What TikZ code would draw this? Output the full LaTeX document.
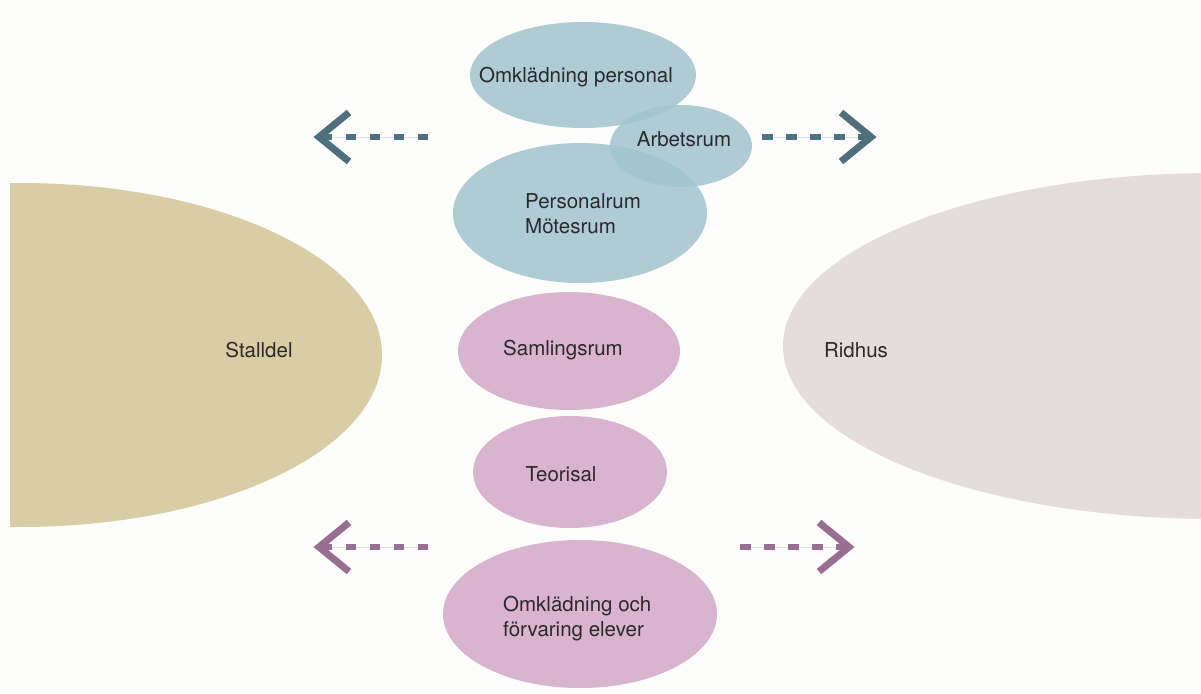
\documentclass[tikz,border=0pt]{standalone}
\usepackage{fontspec}
\setmainfont{TeX Gyre Heros}
\usetikzlibrary{shapes.geometric}
\definecolor{bg}{HTML}{FDFDFB}
\definecolor{bluefill}{HTML}{A2C4CF}
\definecolor{pinkfill}{HTML}{D8B4CE}
\definecolor{stallfill}{HTML}{D9CDA5}
\definecolor{ridfill}{HTML}{E5DCDD}
\definecolor{tealarrow}{HTML}{4E6F7D}
\definecolor{mauvearrow}{HTML}{9A6E93}
\definecolor{txt}{HTML}{2A2A2A}
\tikzset{
  room/.style={ellipse, draw=none, inner sep=0pt},
  bluebox/.style={room, fill=bluefill, fill opacity=0.85},
  pinkbox/.style={room, fill=pinkfill},
  lbl/.style={text=txt, font=\fontsize{20.5}{25}\selectfont, inner sep=0pt},
  lbll/.style={lbl, align=left, anchor=west},
  dashline/.style={line width=6.5pt, dash pattern=on 10.5pt off 13.5pt},
  chev/.style={line width=7pt, line join=miter, line cap=butt},
}
\begin{document}
\begin{tikzpicture}[x=1pt,y=-1pt]
\useasboundingbox (0,0) rectangle (1201,693);
\fill[bg] (0,0) rectangle (1201,693);
% big side ellipses
\begin{scope}
\clip (10,0) rectangle (1201,693);
\node[room, fill=stallfill, minimum width=724pt, minimum height=344pt] (stall) at (20,355) {};
\node[room, fill=ridfill, minimum width=864pt, minimum height=346pt] (rid) at (1215,346) {};
\end{scope}
\node[lbl] (stalltxt) at (259,350) {Stalldel};
\node[lbl] (ridtxt) at (856,350) {Ridhus};
% blue rooms
\node[bluebox, minimum width=226pt, minimum height=106pt] (op) at (583,75) {};
\node[bluebox, minimum width=254pt, minimum height=140pt] (pr) at (580,213) {};
\node[bluebox, minimum width=142pt, minimum height=82pt] (ar) at (681,146) {};
\node[lbl] (optxt) at (576,77) {Omklädning personal};
\node[lbl] (artxt) at (684,139) {Arbetsrum};
\node[lbll] (prtxt) at (525,214) {Personalrum\\Mötesrum};
% pink rooms
\node[pinkbox, minimum width=222pt, minimum height=118pt] (sr) at (569,351) {};
\node[pinkbox, minimum width=194pt, minimum height=112pt] (ts) at (570,472) {};
\node[pinkbox, minimum width=274pt, minimum height=148pt] (el) at (580,614) {};
\node[lbl] (srtxt) at (563,350) {Samlingsrum};
\node[lbl] (tstxt) at (561,474) {Teorisal};
\node[lbll] (eltxt) at (503,619) {Omklädning och\\förvaring elever};
% arrows: coordinates
\coordinate (tlS) at (428,137); \coordinate (tlT) at (319,137);
\coordinate (trS) at (762,137); \coordinate (trT) at (871,137);
\coordinate (blS) at (428,547); \coordinate (blT) at (319,547);
\coordinate (brS) at (740,547); \coordinate (brT) at (849,547);
% top arrows
\draw[tealarrow, opacity=0.2, line width=0.8pt] (tlS) -- (tlT);
\draw[tealarrow, dashline] (tlS) -- (tlT);
\draw[tealarrow, chev] ([shift={(30,-24.5)}]tlT) -- (tlT) -- ([shift={(30,24.5)}]tlT);
\draw[tealarrow, opacity=0.2, line width=0.8pt] (trS) -- (trT);
\draw[tealarrow, dashline] (trS) -- (trT);
\draw[tealarrow, chev] ([shift={(-30,-24.5)}]trT) -- (trT) -- ([shift={(-30,24.5)}]trT);
% bottom arrows
\draw[mauvearrow, opacity=0.2, line width=0.8pt] (blS) -- (blT);
\draw[mauvearrow, dashline] (blS) -- (blT);
\draw[mauvearrow, chev] ([shift={(30,-24.5)}]blT) -- (blT) -- ([shift={(30,24.5)}]blT);
\draw[mauvearrow, opacity=0.2, line width=0.8pt] (brS) -- (brT);
\draw[mauvearrow, dashline] (brS) -- (brT);
\draw[mauvearrow, chev] ([shift={(-30,-24.5)}]brT) -- (brT) -- ([shift={(-30,24.5)}]brT);
\end{tikzpicture}
\end{document}
